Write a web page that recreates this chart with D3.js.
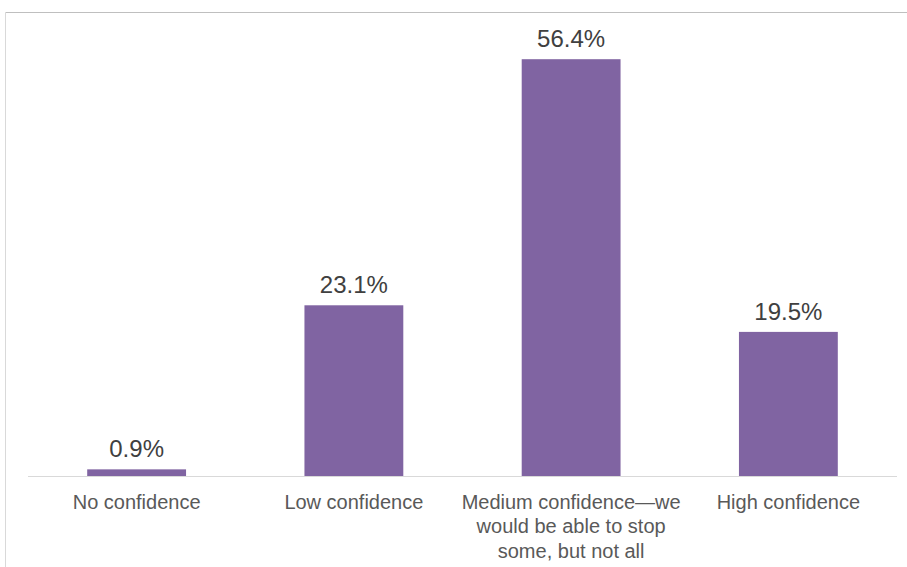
<!DOCTYPE html>
<html>
<head>
<meta charset="utf-8">
<script src="https://cdn.jsdelivr.net/npm/d3@7"></script>
<style>
  html, body { margin: 0; padding: 0; background: #fff; }
  svg { display: block; }
</style>
</head>
<body>
<svg id="chart" width="907" height="567"></svg>
<script>
// Confidence levels and the share of respondents choosing each
const categories = [
  "No confidence",
  "Low confidence",
  "Medium confidence\u2014we would be able to stop some, but not all",
  "High confidence"
];
const values = [0.9, 23.1, 56.4, 19.5];
const valueLabels = ["0.9%", "23.1%", "56.4%", "19.5%"];

const svg = d3.select("#chart");
const W = 907, H = 567;
const margin = { left: 28, right: 10, top: 33, bottom: 91 };
const baseY = H - margin.bottom;

// Outer frame lines (top and left)
svg.append("line")
  .attr("x1", 5.5).attr("x2", W).attr("y1", 12.5).attr("y2", 12.5)
  .attr("stroke", "#bfbfbf").attr("stroke-width", 1);
svg.append("line")
  .attr("x1", 5.5).attr("x2", 5.5).attr("y1", 12.5).attr("y2", H)
  .attr("stroke", "#d9d9d9").attr("stroke-width", 1);

const x = d3.scaleBand()
  .domain(categories)
  .range([margin.left, W - margin.right])
  .paddingInner(0.545)
  .paddingOuter(0.2725);

const y = d3.scaleLinear()
  .domain([0, 60])
  .range([baseY, baseY - 60 * 7.39]);

const data = categories.map((c, i) => ({ c, v: values[i], label: valueLabels[i] }));

svg.append("g").selectAll("rect")
  .data(data)
  .join("rect")
  .attr("x", d => x(d.c))
  .attr("y", d => y(d.v))
  .attr("width", x.bandwidth())
  .attr("height", d => y(0) - y(d.v))
  .attr("fill", "#8064a2");

// Category axis baseline
svg.append("line")
  .attr("x1", margin.left).attr("x2", W - margin.right)
  .attr("y1", baseY + 0.5).attr("y2", baseY + 0.5)
  .attr("stroke", "#d9d9d9").attr("stroke-width", 1.2);

// Value labels above the bars
svg.append("g").selectAll("text")
  .data(data)
  .join("text")
  .attr("x", d => x(d.c) + x.bandwidth() / 2)
  .attr("y", d => y(d.v) - 12)
  .attr("text-anchor", "middle")
  .attr("font-family", "'Liberation Sans', Arial, sans-serif")
  .attr("font-size", 24)
  .attr("fill", "#404040")
  .text(d => d.label);

// Wrapped category labels
const catFont = "'Liberation Sans', Arial, sans-serif";
const catSize = 20;
const maxWidth = x.step() + 5;
const ctx = document.createElement("canvas").getContext("2d");
ctx.font = `${catSize}px ${catFont}`;
function wrap(text) {
  const words = text.split(/(?<=\u2014)|\s+/);
  const lines = [];
  let cur = "";
  words.forEach(w => {
    const trial = cur ? (cur.endsWith("\u2014") ? cur + w : cur + " " + w) : w;
    if (ctx.measureText(trial).width > maxWidth && cur) {
      lines.push(cur);
      cur = w;
    } else cur = trial;
  });
  if (cur) lines.push(cur);
  return lines;
}

const catG = svg.append("g");
categories.forEach(c => {
  const t = catG.append("text")
    .attr("x", x(c) + x.bandwidth() / 2)
    .attr("y", baseY + 33)
    .attr("text-anchor", "middle")
    .attr("font-family", catFont)
    .attr("font-size", catSize)
    .attr("fill", "#595959");
  wrap(c).forEach((line, i) => {
    t.append("tspan")
      .attr("x", x(c) + x.bandwidth() / 2)
      .attr("dy", i === 0 ? 0 : 24.3)
      .text(line);
  });
});
</script>
</body>
</html>
